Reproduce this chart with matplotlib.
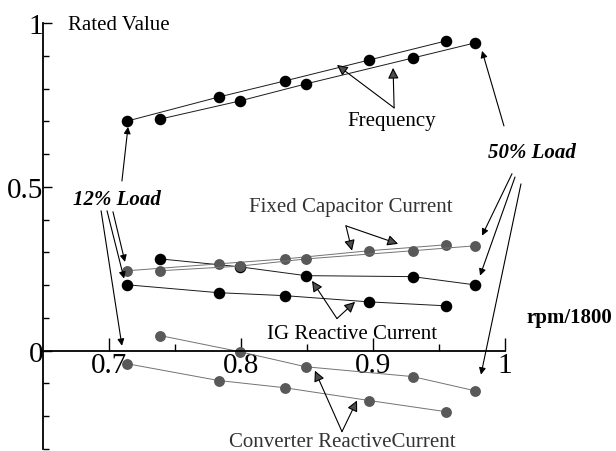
import numpy as np
import matplotlib
matplotlib.use('Agg')
import matplotlib.pyplot as plt

plt.rcParams['font.family'] = ['Liberation Serif', 'DejaVu Serif']

# rpm/1800 operating points, 12% load and 50% load
speed_12 = [0.714, 0.783, 0.833, 0.897, 0.955]
speed_50 = [0.739, 0.799, 0.849, 0.930, 0.977]

freq_12 = [0.701, 0.774, 0.823, 0.887, 0.945]
freq_50 = [0.707, 0.762, 0.814, 0.893, 0.939]

fixcap_12 = [0.244, 0.265, 0.280, 0.305, 0.323]
fixcap_50 = [0.244, 0.258, 0.280, 0.305, 0.320]

ig_12 = [0.201, 0.177, 0.168, 0.149, 0.137]
ig_50 = [0.280, 0.256, 0.229, 0.226, 0.201]

conv_12 = [-0.040, -0.091, -0.113, -0.152, -0.186]
conv_50 = [0.046, -0.003, -0.049, -0.079, -0.122]

fig = plt.figure(figsize=(6.16, 4.52), dpi=100)
ax = fig.add_axes([43 / 616, 2 / 452, 462 / 616, 426 / 452])

black = dict(color='0.1', lw=0.7, marker='o', ms=7.3, mfc='k', mec='k')
grey = dict(color='0.45', lw=0.7, marker='o', ms=6.8, mfc='0.35', mec='0.35')

ax.plot(speed_12, freq_12, **black)
ax.plot(speed_50, freq_50, **black)
ax.plot(speed_12, ig_12, **black)
ax.plot(speed_50, ig_50, **black)
ax.plot(speed_12, fixcap_12, **grey)
ax.plot(speed_50, fixcap_50, **grey)
ax.plot(speed_12, conv_12, **grey)
ax.plot(speed_50, conv_50, **grey)

ax.set_xlim(0.65, 1.0)
ax.set_ylim(-0.3, 1.0)
for s in ['top', 'right']:
    ax.spines[s].set_visible(False)
ax.spines['bottom'].set_position(('data', 0))
ax.spines['left'].set_linewidth(1.3)
ax.spines['bottom'].set_linewidth(1.3)

ax.set_xticks([0.7, 0.8, 0.9, 1.0])
ax.set_xticklabels(['0.7', '0.8', '0.9', '1'])
ax.set_xticks([0.75, 0.85, 0.95], minor=True)
ax.set_yticks([0, 0.5, 1.0])
ax.set_yticklabels(['0', '0.5', '1'])
ax.set_yticks([-0.3, -0.2, -0.1, 0.1, 0.2, 0.3, 0.4, 0.6, 0.7, 0.8, 0.9], minor=True)
ax.tick_params(axis='x', which='major', direction='in', length=9.5, width=1, pad=1, labelsize=21)
ax.tick_params(axis='x', which='minor', direction='in', length=5, width=1)
ax.tick_params(axis='y', which='major', direction='in', length=6.5, width=1, pad=0, labelsize=21)
ax.tick_params(axis='y', which='minor', direction='in', length=4.3, width=1)

# text labels
ax.text(0.669, 0.994, 'Rated Value', fontsize=15, ha='left', va='center')
ax.text(0.9144, 0.701, 'Frequency', fontsize=15, ha='center', va='center')
ax.text(1.0205, 0.607, '50% Load', fontsize=15, ha='center', va='center',
        fontweight='bold', fontstyle='italic')
ax.text(0.706, 0.463, '12% Load', fontsize=15, ha='center', va='center',
        fontweight='bold', fontstyle='italic')
ax.text(0.8833, 0.439, 'Fixed Capacitor Current', fontsize=15, ha='center', va='center',
        color='0.2')
ax.text(0.884, 0.052, 'IG Reactive Current', fontsize=15, ha='center', va='center')
ax.text(0.8765, -0.277, 'Converter ReactiveCurrent', fontsize=15, ha='center', va='center',
        color='0.2')
ax.text(1.049, 0.104, 'rpm/1800', fontsize=15, ha='center', va='center', fontweight='bold')


def arrow(start, tip, head_col='k', head=10):
    ax.annotate('', xy=tip, xytext=start,
                arrowprops=dict(arrowstyle='-|>', lw=0.8, ec='k', fc=head_col,
                                mutation_scale=head, shrinkA=0, shrinkB=0),
                annotation_clip=False)


# label callouts
arrow((0.916, 0.741), (0.8727, 0.872), '0.3', 16)
arrow((0.916, 0.741), (0.9152, 0.863), '0.3', 16)
arrow((0.9992, 0.686), (0.9826, 0.915))
arrow((1.0053, 0.540), (0.9826, 0.351))
arrow((1.0076, 0.530), (0.9811, 0.229))
arrow((1.0121, 0.509), (0.9818, -0.073))
arrow((0.7098, 0.518), (0.7144, 0.683))
arrow((0.7030, 0.424), (0.7121, 0.271))
arrow((0.6985, 0.427), (0.7114, 0.220))
arrow((0.6940, 0.427), (0.7098, 0.015))
arrow((0.8795, 0.381), (0.8841, 0.305), '0.3', 16)
arrow((0.8795, 0.381), (0.9190, 0.326), '0.3', 16)
arrow((0.8727, 0.098), (0.8538, 0.213), '0.3', 16)
arrow((0.8727, 0.098), (0.8864, 0.149), '0.3', 16)
arrow((0.8765, -0.247), (0.8560, -0.061), '0.3', 16)
arrow((0.8765, -0.247), (0.8879, -0.152), '0.3', 16)

fig.savefig('out.png', dpi=100)
